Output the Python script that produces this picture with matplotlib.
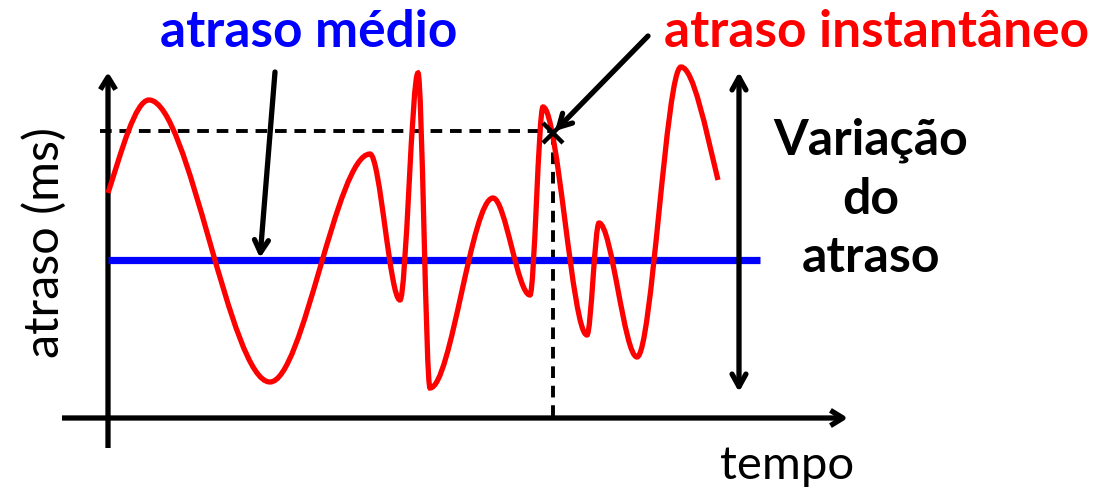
import matplotlib
matplotlib.use("Agg")
import matplotlib.pyplot as plt
from matplotlib.path import Path
from matplotlib.patches import PathPatch

# ---- data (in picture units: x to the right, y downward) ----
curve_x = [108, 149, 270, 370, 400, 418, 430, 493, 530, 543, 587, 599, 637, 681, 718]
curve_y = [193, 100, 382, 154, 300, 73, 388, 198, 295, 107, 335, 223, 357, 67, 180]
mean_delay_y = 260
sample_point = (553, 133)
range_top, range_bottom = 72, 392

title_mean = "atraso médio"
title_inst = "atraso instantâneo"
ylabel = "atraso (ms)"
xlabel = "tempo"
range_label = "Variação\ndo\natraso"

W, H = 1102, 499
fig = plt.figure(figsize=(W / 100, H / 100), dpi=100)
ax = fig.add_axes([0, 0, 1, 1])
ax.set_xlim(0, W)
ax.set_ylim(H, 0)
ax.axis("off")

FONT = "Lato"

# axes with open arrowheads
arrow_kw = dict(arrowstyle="->,head_length=0.9,head_width=0.55", lw=3.8, color="black",
                shrinkA=0, shrinkB=0, capstyle="butt")
ax.annotate("", xy=(108, 72), xytext=(108, 448), arrowprops=arrow_kw)
ax.annotate("", xy=(848, 418), xytext=(62, 418), arrowprops=arrow_kw)

# mean delay line
ax.plot([108, 760], [mean_delay_y, mean_delay_y], color="#0000ff", lw=5.2, solid_capstyle="butt", zorder=3)

# red instantaneous delay curve: smooth Bezier segments between extrema
verts = [(curve_x[0], curve_y[0])]
codes = [Path.MOVETO]
n = len(curve_x)
for i in range(n - 1):
    x0, y0, x1, y1 = curve_x[i], curve_y[i], curve_x[i + 1], curve_y[i + 1]
    d = (x1 - x0) / 3.0
    c1 = (x0 + d, y0) if i > 0 else (x0 + d, y0 + (y1 - y0) * 0.45)
    c2 = (x1 - d, y1) if i < n - 2 else (x1 - d, y1 - (y1 - y0) * 0.45)
    verts += [c1, c2, (x1, y1)]
    codes += [Path.CURVE4] * 3
ax.add_patch(PathPatch(Path(verts, codes), fill=False, edgecolor="#ff0000", lw=3.8, zorder=4,
                       capstyle="butt"))

# dashed guides to the sample point
sx, sy = sample_point
ax.plot([100, sx], [131, 131], color="black", lw=2.8, ls=(0, (3, 2)), zorder=2)
ax.plot([sx, sx], [sy, 418], color="black", lw=2.8, ls=(0, (3, 2)), zorder=2)
ax.plot([sx], [sy], marker="x", ms=15, mew=3.2, color="black", zorder=5)

# pointer arrows
ptr_kw = dict(arrowstyle="->,head_length=0.9,head_width=0.5", lw=3.8, color="black",
              shrinkA=0, shrinkB=0)
ax.annotate("", xy=(260, 258), xytext=(275, 72), arrowprops=ptr_kw)
ax.annotate("", xy=(sx + 2, sy - 2), xytext=(648, 36), arrowprops=ptr_kw)

# range double arrow
ax.annotate("", xy=(739, range_top), xytext=(739, range_bottom),
            arrowprops=dict(arrowstyle="<->,head_length=0.9,head_width=0.5", lw=3.8,
                            color="black", shrinkA=0, shrinkB=0))

# texts
ax.text(309, 32, title_mean, color="#0000ff", fontsize=37, fontweight="bold",
        family=FONT, ha="center", va="center")
ax.text(877, 32, title_inst, color="#ff0000", fontsize=37, fontweight="bold",
        family=FONT, ha="center", va="center")
ax.text(871, 199, range_label, color="black", fontsize=36, fontweight="bold",
        family=FONT, ha="center", va="center", linespacing=1.36)
ax.text(44, 242, ylabel, color="black", fontsize=35, family=FONT,
        rotation=90, ha="center", va="center")
ax.text(787, 466, xlabel, color="black", fontsize=34, family=FONT,
        ha="center", va="center")

fig.savefig("out.png", dpi=100)
